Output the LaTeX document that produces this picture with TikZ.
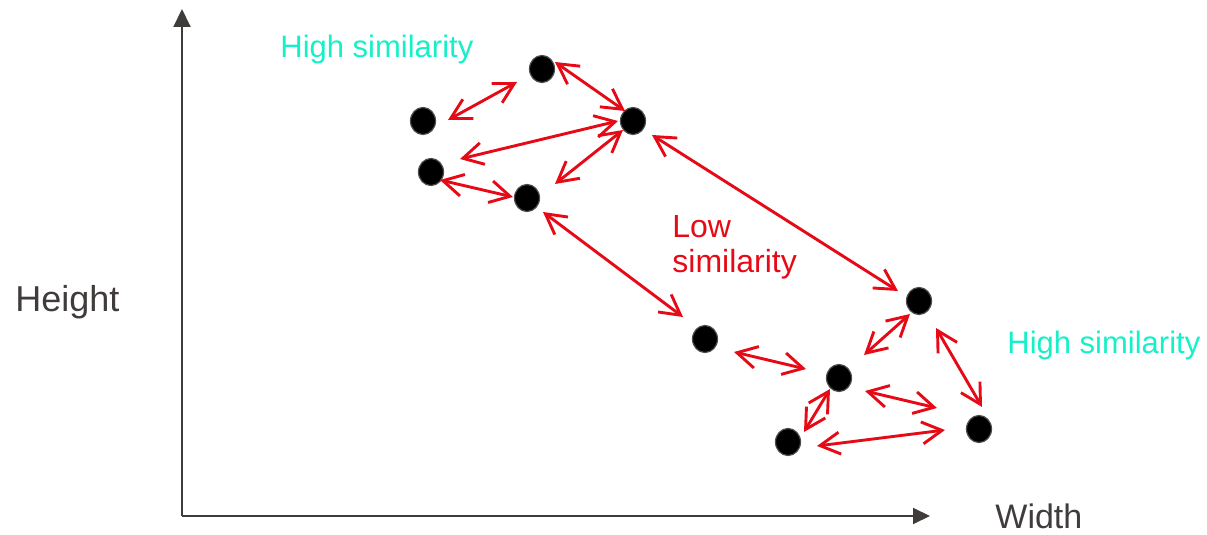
\documentclass[tikz,border=0pt]{standalone}
\usepackage{fontspec}
\setmainfont{Liberation Sans}
\usetikzlibrary{arrows.meta,shapes.geometric}
\definecolor{simred}{RGB}{230,10,22}
\definecolor{simcyan}{RGB}{22,240,200}
\definecolor{axisgray}{RGB}{64,60,60}
\tikzset{
  dot/.style={ellipse,fill=black,draw=black!70,line width=0.6pt,minimum width=12.5pt,minimum height=13.5pt,inner sep=0pt},
  sim/.style={draw=simred,line width=1.45pt,{Straight Barb[length=10pt,width=11pt]}-{Straight Barb[length=10pt,width=11pt]}},
  axis/.style={draw=axisgray,line width=1pt},
  lbl/.style={inner sep=0pt,anchor=base west},
}
\begin{document}
\begin{tikzpicture}[x=0.5pt,y=-0.5pt]
\useasboundingbox (0,0) rectangle (1207,535);
% axes
\coordinate (o) at (182,516);
\coordinate (ytop) at (182,9);
\coordinate (xend) at (930,516);
\draw[axis,-{Triangle[length=9pt,width=8.5pt]}] (o) -- (ytop);
\draw[axis,-{Triangle[length=8.5pt,width=8pt]}] (o) -- (xend);
\node[lbl,text=axisgray,font=\fontsize{18}{20}\selectfont] (h) at (15,312) {Height};
\node[lbl,text=axisgray,font=\fontsize{17}{20}\selectfont] (w) at (995,528) {Width};
% labels
\node[lbl,text=simcyan,font=\fontsize{15.5}{18}\selectfont] (hs1) at (280,58) {High similarity};
\node[lbl,text=simcyan,font=\fontsize{15.5}{18}\selectfont] (hs2) at (1007,353) {High similarity};
\node[lbl,text=simred,font=\fontsize{16}{18}\selectfont] (low1) at (672,238) {Low};
\node[lbl,text=simred,font=\fontsize{16}{18}\selectfont] (low2) at (672,273) {similarity};
% dots
\node[dot] (p1) at (542,69) {};
\node[dot] (p2) at (423,121) {};
\node[dot] (p3) at (633,121) {};
\node[dot] (p4) at (431,172) {};
\node[dot] (p5) at (527,198) {};
\node[dot] (p6) at (919,301) {};
\node[dot] (p7) at (705,339) {};
\node[dot] (p8) at (839,378) {};
\node[dot] (p9) at (979,429) {};
\node[dot] (p10) at (788,442) {};
% similarity arrows
\draw[sim] ([shift={(25,-1)}]p2.center) -- ([shift={(-25,13)}]p1.center);
\draw[sim] ([shift={(13,-7)}]p1.center) -- ([shift={(-8,-10)}]p3.center);
\draw[sim] ([shift={(29,-13)}]p4.center) -- ([shift={(-15,0)}]p3.center);
\draw[sim] ([shift={(28,-14)}]p5.center) -- ([shift={(-10,9)}]p3.center);
\draw[sim] ([shift={(9,8)}]p4.center) -- ([shift={(-14,-1)}]p5.center);
\draw[sim] ([shift={(19,14)}]p3.center) -- ([shift={(-21,-10)}]p6.center);
\draw[sim] ([shift={(16,14)}]p5.center) -- ([shift={(-22,-22)}]p7.center);
\draw[sim] ([shift={(25,-23)}]p8.center) -- ([shift={(-9,13)}]p6.center);
\draw[sim] ([shift={(17,27)}]p6.center) -- ([shift={(3,-22)}]p9.center);
\draw[sim] ([shift={(29,13)}]p7.center) -- ([shift={(-33,-9)}]p8.center);
\draw[sim] ([shift={(26,13)}]p8.center) -- ([shift={(-42,-21)}]p9.center);
\draw[sim] ([shift={(16,-10)}]p10.center) -- ([shift={(-9,11)}]p8.center);
\draw[sim] ([shift={(29,4)}]p10.center) -- ([shift={(-34,1)}]p9.center);
\end{tikzpicture}
\end{document}
